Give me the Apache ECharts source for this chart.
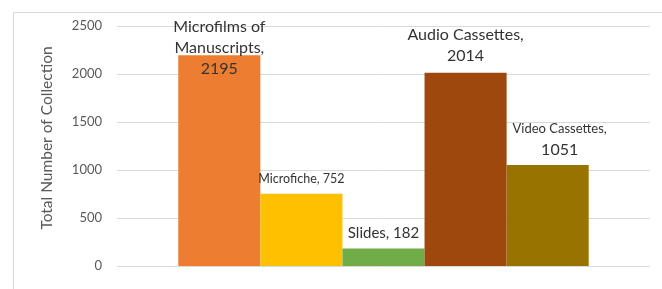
<!DOCTYPE html>
<html>
<head>
<meta charset="utf-8">
<script src="https://cdn.jsdelivr.net/npm/echarts@6/dist/echarts.min.js"></script>
<style>
html, body { margin: 0; padding: 0; background: #fff; }
#main { width: 662px; height: 289px; }
</style>
</head>
<body>
<div id="main"></div>
<script>
// collection types and their totals
var names = ['Microfilms of Manuscripts', 'Microfiche', 'Slides', 'Audio Cassettes', 'Video Cassettes'];
var values = [2195, 752, 182, 2014, 1051];
var yTicks = [0, 500, 1000, 1500, 2000, 2500];

var colorList = ['#ED7D31', '#FFC000', '#70AD47', '#9E480E', '#997300'];
var font = 'Lato';

// label look per bar (name part, value part)
var labelStyles = [
	{ nameSize: 16, valSize: 16, dist: -24, dx: 0, wrap: true },
	{ nameSize: 12.5, valSize: 12.5, dist: 4, dx: 0, wrap: false },
	{ nameSize: 15, valSize: 15, dist: 5, dx: 0, wrap: false },
	{ nameSize: 16, valSize: 16, dist: 6, dx: 0, wrap: true },
	{ nameSize: 13, valSize: 16, dist: 5, dx: 12, wrap: true }
];

function makeSeries() {
	var series = [];
	for (var i = 0; i < names.length; i++) {
		var ls = labelStyles[i];
		var nm = names[i];
		if (i == 0) nm = 'Microfilms of\nManuscripts';
		var txt;
		if (ls.wrap) {
			var parts = nm.split('\n');
			txt = parts.map(function (p, k) {
				return '{n|' + p + (k == parts.length - 1 ? ',' : '') + '}';
			}).join('\n') + '\n{v|' + values[i] + '}';
		} else {
			txt = '{n|' + nm + ', }{v|' + values[i] + '}';
		}
		series.push({
			name: names[i],
			type: 'bar',
			data: [values[i]],
			barGap: '0%',
			barCategoryGap: '23%',
			itemStyle: { color: colorList[i] },
			label: {
				show: true,
				position: 'top',
				distance: ls.dist,
				offset: [ls.dx, 0],
				formatter: txt,
				color: '#333',
				fontFamily: font,
				rich: {
					n: { fontSize: ls.nameSize, fontFamily: font, color: '#333', lineHeight: 21 },
					v: { fontSize: ls.valSize, fontFamily: font, color: '#333', lineHeight: 21 }
				}
			}
		});
	}
	return series;
}

var chart = echarts.init(document.getElementById('main'));
var option = {
	animation: false,
	backgroundColor: '#fff',
	graphic: [
		{ type: 'line', shape: { x1: 13.5, y1: 12.5, x2: 13.5, y2: 289 }, style: { stroke: '#d9d9d9', lineWidth: 1 } },
		{ type: 'line', shape: { x1: 13.5, y1: 12.5, x2: 662, y2: 12.5 }, style: { stroke: '#d9d9d9', lineWidth: 1 } }
	],
	grid: { left: 117, right: 12, top: 26, bottom: 23 },
	xAxis: {
		type: 'category',
		data: [''],
		axisLine: { show: false },
		axisTick: { show: false },
		axisLabel: { show: false }
	},
	yAxis: {
		type: 'value',
		min: yTicks[0],
		max: yTicks[yTicks.length - 1],
		interval: 500,
		name: 'Total Number of Collection',
		nameLocation: 'middle',
		nameGap: 62,
		nameTextStyle: { color: '#595959', fontSize: 15.5, fontFamily: font, padding: [0, 0, 0, 16] },
		axisLine: { show: false },
		axisTick: { show: false },
		axisLabel: { color: '#595959', fontSize: 13, fontFamily: font, margin: 15, formatter: function (v) { return String(v); } },
		splitLine: { lineStyle: { color: '#d9d9d9', width: 1 } }
	},
	series: makeSeries()
};
chart.setOption(option);
</script>
</body>
</html>
